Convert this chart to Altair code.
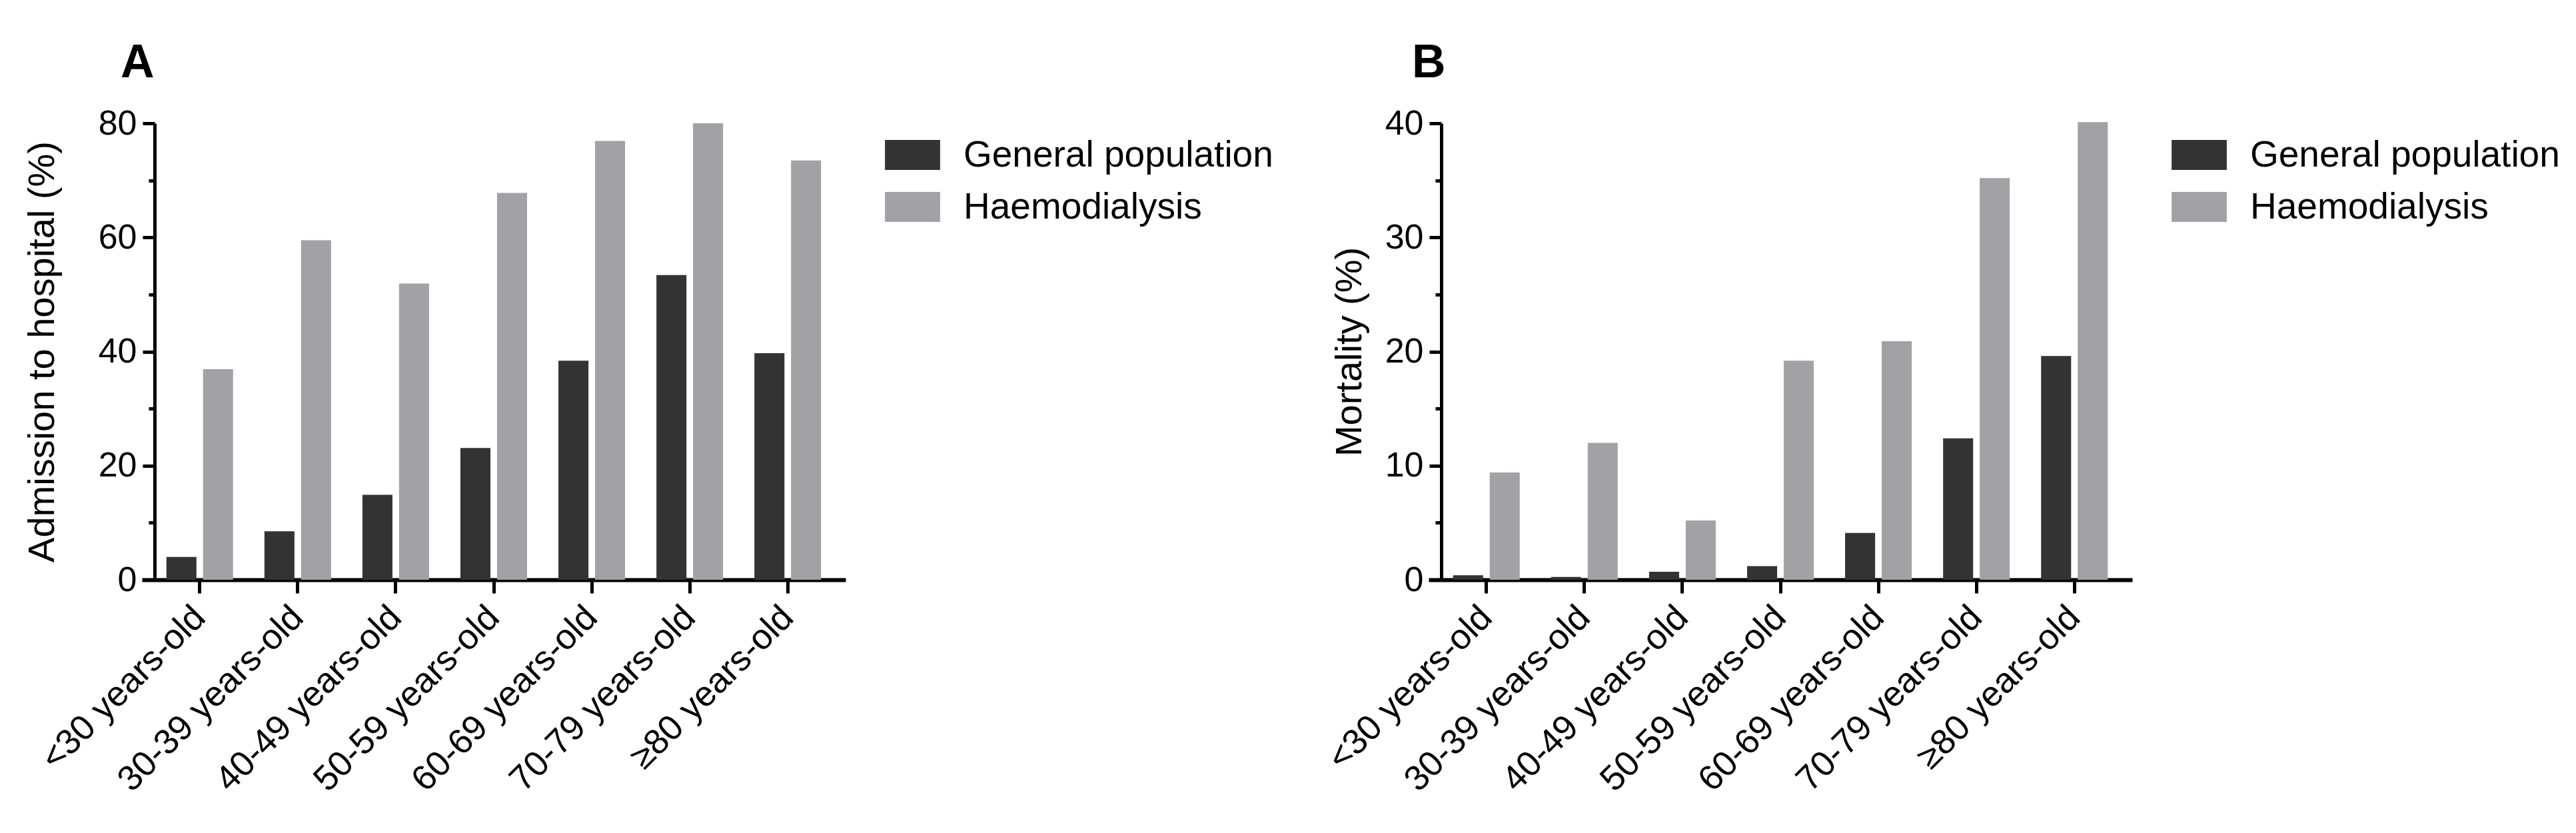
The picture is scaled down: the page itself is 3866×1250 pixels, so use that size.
import altair as alt
import pandas as pd

age_groups = ["<30 years-old", "30-39 years-old", "40-49 years-old", "50-59 years-old",
              "60-69 years-old", "70-79 years-old", "≥80 years-old"]
groups = ["General population", "Haemodialysis"]
adm_general = [4.0, 8.5, 14.9, 23.1, 38.4, 53.4, 39.7]
adm_haemo = [36.9, 59.5, 51.9, 67.8, 76.9, 80.0, 73.5]
mort_general = [0.4, 0.25, 0.7, 1.2, 4.1, 12.4, 19.6]
mort_haemo = [9.4, 12.0, 5.2, 19.2, 20.9, 35.2, 40.1]
colors = ["#333333", "#a2a2a6"]

FONT = "Liberation Sans"


def make_df(gen, hae):
    rows = []
    for a, g, h in zip(age_groups, gen, hae):
        rows.append({"age": a, "group": groups[0], "value": g})
        rows.append({"age": a, "group": groups[1], "value": h})
    return pd.DataFrame(rows)


def panel(df, ytitle, ymax, minor, letter, title_dx, title_pad):
    major = ymax / 4
    vals = [i * minor for i in range(int(ymax / minor) + 1)]
    return alt.Chart(df).mark_bar().encode(
        x=alt.X("age:N", sort=age_groups,
                scale=alt.Scale(paddingInner=0.32, paddingOuter=0.25),
                axis=alt.Axis(title=None, labelAngle=315, labelAlign="right",
                              labelBaseline="middle", labelFontSize=53, labelPadding=28,
                              labelColor="black", labelFont=FONT, labelLimit=1000,
                              tickSize=20, tickWidth=5, tickColor="black",
                              domainWidth=6, domainColor="black", grid=False)),
        xOffset=alt.XOffset("group:N", sort=groups,
                            scale=alt.Scale(paddingInner=0.18, paddingOuter=0)),
        y=alt.Y("value:Q", scale=alt.Scale(domain=[0, ymax], nice=False),
                axis=alt.Axis(title=ytitle, values=vals,
                              labelExpr=f"datum.value % {major} === 0 ? datum.label : ''",
                              tickSize={"condition": {"test": f"datum.value % {major} === 0", "value": 18},
                                        "value": 9},
                              tickWidth=5, tickColor="black", domainWidth=5, domainColor="black",
                              labelFontSize=52, labelColor="black", labelFont=FONT, labelPadding=9,
                              titleFontSize=56, titleFont=FONT, titleFontWeight="normal",
                              titleColor="black", titlePadding=title_pad, offset=-19, grid=False)),
        color=alt.Color("group:N", sort=groups,
                        scale=alt.Scale(domain=groups, range=colors),
                        legend=alt.Legend(title=None, orient="none", legendX=1129, legendY=20,
                                          symbolType="M-1.84,-1L1.84,-1L1.84,1L-1.84,1Z",
                                          symbolSize=2025, symbolStrokeWidth=0,
                                          labelFont=FONT, labelFontSize=55,
                                          labelColor="black", labelOffset=49, rowPadding=22,
                                          labelLimit=1000, padding=0)),
    ).properties(
        width=1056, height=685,
        title=alt.TitleParams(letter, anchor="start", frame="group", dx=title_dx, offset=28,
                              fontSize=70, fontWeight="bold", font=FONT, color="black"),
    )


a = panel(make_df(adm_general, adm_haemo), "Admission to hospital (%)", 80, 10, "A", -32, 55)
b = panel(make_df(mort_general, mort_haemo), "Mortality (%)", 40, 5, "B", -25, 24)

chart = alt.hconcat(a, b, spacing=72).resolve_scale(
    color="independent", x="independent", y="independent", xOffset="independent"
).resolve_legend(color="independent").configure(
    font=FONT, padding={"left": 27, "top": 52, "right": 0, "bottom": 0}
).configure_view(stroke=None)

chart.save("out.html", embed_options={"renderer": "svg", "actions": False})
